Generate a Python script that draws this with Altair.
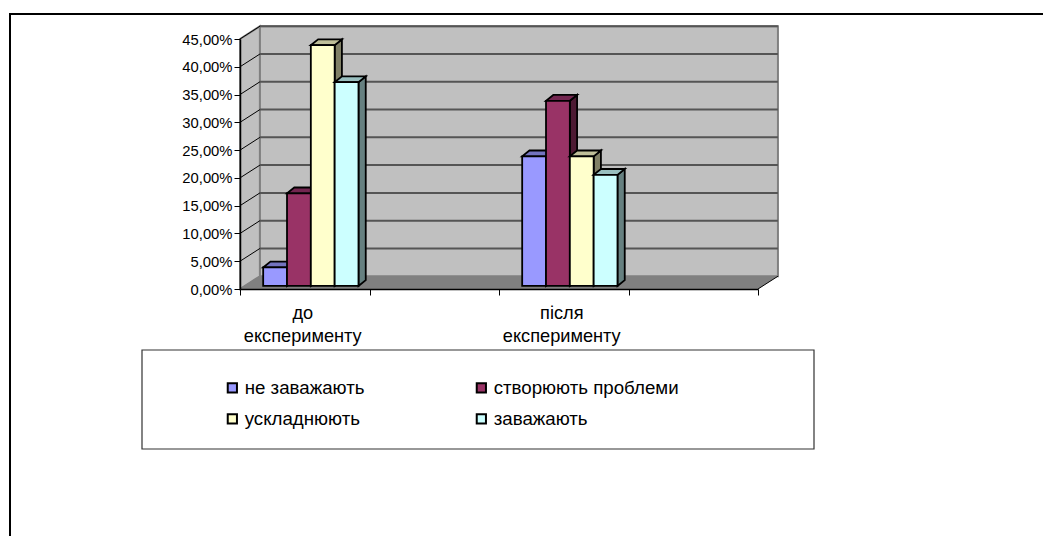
import altair as alt
import pandas as pd

# Survey shares (percent) for each response, before and after the experiment
groups = ["до експерименту", "після експерименту"]
group_slots = [0, 2]
series = ["не заважають", "створюють проблеми", "ускладнюють", "заважають"]
before = [3.33, 16.67, 43.33, 36.67]
after = [23.33, 33.33, 23.33, 20.0]
front_colors = ["#9999FF", "#993366", "#FFFFCC", "#CCFFFF"]
top_colors = ["#7373BF", "#732650", "#BFBF99", "#99BFBF"]
side_colors = ["#4D4D80", "#4D1A33", "#808066", "#668080"]

# Oblique projection of the plot box, in category units and percentage points
WALL_DX, WALL_DY = 0.154, 2.3
BAR_X0, BAR_BASE = 0.046, 0.55
BAR_DX, BAR_DY = 0.056, 1.05
BAR_W, BAR_GAP = 0.184, 0.133

xs = alt.Scale(domain=[0, 4], nice=False, zero=False)
ys = alt.Scale(domain=[0, 45], nice=False, zero=False)
X = alt.X("x:Q", scale=xs, axis=None)
X2 = alt.X2("x2:Q")
Y = alt.Y("y:Q", scale=ys, axis=None)
Y2 = alt.Y2("y2:Q")

layers = []

# Page frame (open to the right and bottom) and legend box, placed in pixels from the plot origin
frame = alt.Chart(pd.DataFrame({"k": [0]})).mark_rect(
    fill="white", stroke="black", strokeWidth=2
).encode(x=alt.value(-230), x2=alt.value(900), y=alt.value(-25), y2=alt.value(600))
layers.append(frame)

# Left wall, back wall and floor
wall = pd.DataFrame({"x": [0, WALL_DX], "y": [0, WALL_DY], "y2": [45, 45 + WALL_DY]})
layers.append(alt.Chart(wall).mark_area(color="#C0C0C0", stroke="#808080", strokeWidth=2).encode(x=X, y=Y, y2=Y2))
back = pd.DataFrame({"x": [WALL_DX], "x2": [4 + WALL_DX], "y": [WALL_DY], "y2": [45 + WALL_DY]})
layers.append(alt.Chart(back).mark_rect(color="#C0C0C0", stroke="#808080", strokeWidth=2).encode(x=X, x2=X2, y=Y, y2=Y2))
floor = pd.DataFrame({"y": [0, WALL_DY], "x": [0, WALL_DX], "x2": [4, 4 + WALL_DX]})
layers.append(alt.Chart(floor).mark_area(orient="horizontal", color="#808080").encode(x=X, x2=X2, y=Y))

# Gridlines run along the back wall and fold down the left wall
levels = list(range(5, 50, 5))
grid = pd.DataFrame({"x": WALL_DX, "x2": 4 + WALL_DX, "y": [v + WALL_DY for v in levels]})
layers.append(alt.Chart(grid).mark_rule(color="#555555", strokeWidth=2).encode(x=X, x2=X2, y=Y))
fold = pd.DataFrame({"x": 0.0, "x2": WALL_DX, "y": levels, "y2": [v + WALL_DY for v in levels]})
layers.append(alt.Chart(fold).mark_rule(color="black", strokeWidth=1).encode(x=X, x2=X2, y=Y, y2=Y2))
layers.append(
    alt.Chart(pd.DataFrame({"x": [0.0], "x2": [WALL_DX], "y": [0.0], "y2": [WALL_DY]}))
    .mark_rule(color="#808080", strokeWidth=1).encode(x=X, x2=X2, y=Y, y2=Y2)
)
layers.append(
    alt.Chart(pd.DataFrame({"x": [4.0], "x2": [4 + WALL_DX], "y": [0.0], "y2": [WALL_DY]}))
    .mark_rule(color="black", strokeWidth=1).encode(x=X, x2=X2, y=Y, y2=Y2)
)

# Real axes: ticks and values on the front edge of the box
fmt = "replace(format(datum.value, '.2f'), '.', ',') + '%'"
y_axis = alt.Axis(
    orient="left", values=list(range(0, 50, 5)), labelExpr=fmt, grid=False, title=None, domainColor="black",
    domainWidth=1.5, tickColor="black", tickSize=6, labelFont="Liberation Sans", labelFontSize=14.8,
    labelColor="black", labelPadding=2, labelOffset=1, zindex=1,
)
x_axis = alt.Axis(
    orient="bottom", values=[0, 1, 2, 3, 4], labels=False, grid=False, title=None, domainColor="black",
    domainWidth=1.5, tickColor="black", tickSize=6, zindex=1,
)
label_values = [s + 0.5 for s in group_slots]
names_by_slot = {s + 0.5: g.split(" ") for s, g in zip(group_slots, groups)}
label_expr = "datum.value < 1 ? {} : {}".format(names_by_slot[0.5], names_by_slot[2.5])
label_axis = alt.Axis(
    orient="bottom", values=label_values, labelExpr=label_expr, ticks=False, domain=False, grid=False, title=None,
    labelFont="Liberation Sans", labelFontSize=18.2, labelColor="black", labelPadding=15,
    labelLineHeight=23, labelAngle=0, labelBaseline="top", zindex=1, labelOffset=-2.5,
)
ax_data = alt.Chart(pd.DataFrame({"x": [0.0], "y": [0.0]}))
layers.append(ax_data.mark_point(opacity=0).encode(
    x=alt.X("x:Q", scale=xs, axis=x_axis), y=alt.Y("y:Q", scale=ys, axis=y_axis)))
layers.append(ax_data.mark_point(opacity=0).encode(
    x=alt.X("x:Q", scale=xs, axis=label_axis), y=alt.Y("y:Q", scale=ys, axis=None)))

# Bars: drawn left to right so each front face covers its neighbour's side
color = alt.Color(
    "series:N",
    scale=alt.Scale(domain=series, range=front_colors),
    legend=alt.Legend(
        title=None, orient="none", legendX=-17, legendY=339, columns=2, columnPadding=107, rowPadding=11.5,
        direction="horizontal", symbolType="square", symbolSize=85, symbolStrokeColor="black",
        symbolStrokeWidth=2, labelFont="Liberation Sans", labelFontSize=18.7, labelColor="black",
        symbolOpacity=1, labelOffset=3, labelLimit=400,
        labelExpr="datum.index > 0.9 ? '\u2002' + datum.label : datum.label",
    ),
)
box = alt.Chart(pd.DataFrame({"k": [0]})).mark_rect(
    fill="white", stroke="#333333", strokeWidth=1.2
).encode(x=alt.value(-98), x2=alt.value(574), y=alt.value(311), y2=alt.value(410))
layers.append(box)

for i, name in enumerate(series):
    for slot, values in zip(group_slots, (before, after)):
        v = values[i]
        left = slot + BAR_GAP + BAR_X0 + i * BAR_W
        right = left + BAR_W
        side = pd.DataFrame({
            "x": [right, right + BAR_DX],
            "y": [BAR_BASE, BAR_BASE + BAR_DY],
            "y2": [BAR_BASE + v, BAR_BASE + v + BAR_DY],
        })
        top = pd.DataFrame({
            "y": [BAR_BASE + v, BAR_BASE + v + BAR_DY],
            "x": [left, left + BAR_DX],
            "x2": [right, right + BAR_DX],
        })
        front = pd.DataFrame({
            "series": [name], "x": [left], "x2": [right], "y": [BAR_BASE], "y2": [BAR_BASE + v],
        })
        layers.append(alt.Chart(side).mark_area(color=side_colors[i], stroke="black", strokeWidth=1.8)
                      .encode(x=X, y=Y, y2=Y2))
        layers.append(alt.Chart(top).mark_area(orient="horizontal", color=top_colors[i], stroke="black", strokeWidth=1.8)
                      .encode(x=X, x2=X2, y=Y))
        layers.append(alt.Chart(front).mark_bar(stroke="black", strokeWidth=1.8, opacity=1)
                      .encode(x=X, x2=X2, y=Y, y2=Y2, color=color))

chart = (
    alt.layer(*layers)
    .resolve_scale(x="shared", y="shared")
    .resolve_axis(x="independent", y="independent")
    .properties(
        width=518, height=250, background="white",
        padding={"left": 240, "top": 39, "right": 285, "bottom": 247},
        autosize=alt.AutoSizeParams(type="none"),
    )
    .configure_view(stroke=None)
)
chart.save("out.html", embed_options={"renderer": "svg", "actions": False})
